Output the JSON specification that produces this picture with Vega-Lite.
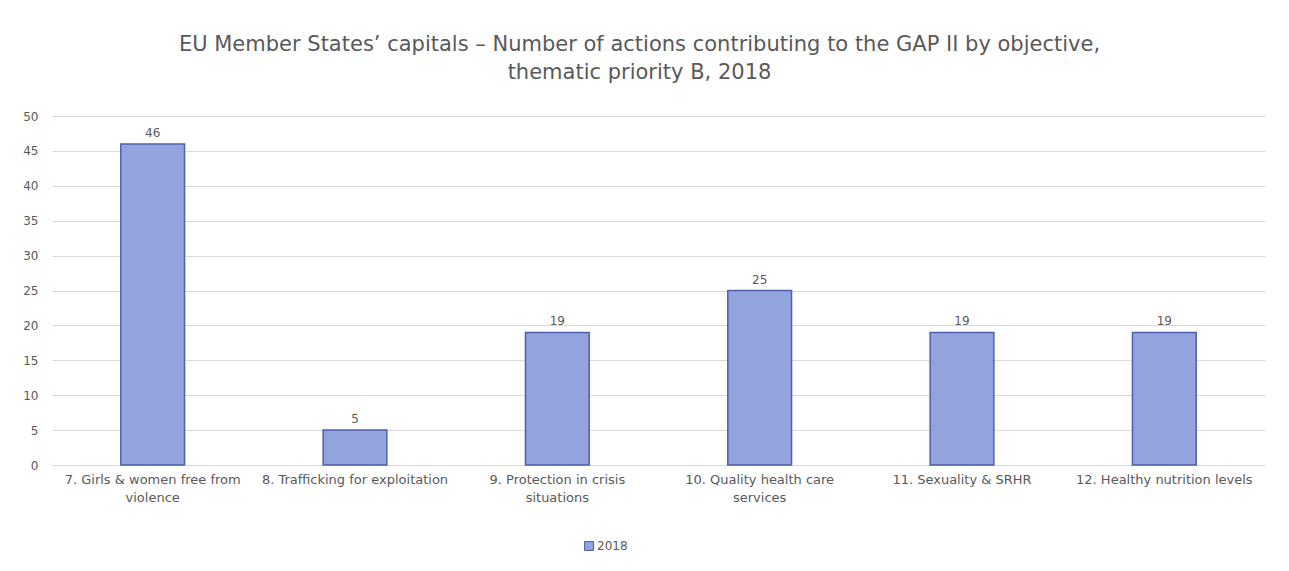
{
  "$schema": "https://vega.github.io/schema/vega-lite/v6.json",
  "autosize": "none",
  "width": 1213,
  "height": 349,
  "padding": {"left": 52, "top": 116, "right": 24, "bottom": 106},
  "background": "white",
  "title": {
    "text": ["EU Member States’ capitals – Number of actions contributing  to the GAP II by objective,", "thematic priority B, 2018"],
    "font": "DejaVu Sans",
    "fontSize": 21,
    "fontWeight": "normal",
    "color": "#595959",
    "anchor": "middle",
    "offset": 27,
    "lineHeight": 28,
    "dx": -19
  },
  "data": {
    "values": [
      {"objective": "7. Girls & women free from violence", "year": "2018", "actions": 46},
      {"objective": "8. Trafficking for exploitation", "year": "2018", "actions": 5},
      {"objective": "9. Protection in crisis situations", "year": "2018", "actions": 19},
      {"objective": "10. Quality health care services", "year": "2018", "actions": 25},
      {"objective": "11. Sexuality & SRHR", "year": "2018", "actions": 19},
      {"objective": "12. Healthy nutrition levels", "year": "2018", "actions": 19}
    ]
  },
  "encoding": {
    "x": {
      "field": "objective",
      "type": "nominal",
      "sort": null,
      "scale": {"paddingInner": 0.685, "paddingOuter": 0.34},
      "axis": {
        "title": null,
        "labelAngle": 0,
        "labelFont": "DejaVu Sans",
        "labelFontSize": 13,
        "labelColor": "#595959",
        "labelPadding": 8,
        "labelLimit": 300,
        "labelLineHeight": 18,
        "ticks": false,
        "domainColor": "#D9D9D9",
        "labelExpr": "datum.value == '7. Girls & women free from violence' ? ['7. Girls & women free from', 'violence'] : datum.value == '9. Protection in crisis situations' ? ['9. Protection in crisis', 'situations'] : datum.value == '10. Quality health care services' ? ['10. Quality health care', 'services'] : datum.value"
      }
    },
    "y": {
      "field": "actions",
      "type": "quantitative",
      "scale": {"domain": [0, 50]},
      "axis": {
        "title": null,
        "values": [0, 5, 10, 15, 20, 25, 30, 35, 40, 45, 50],
        "labelFont": "DejaVu Sans",
        "labelFontSize": 12,
        "labelColor": "#595959",
        "labelPadding": 14,
        "ticks": false,
        "domain": false,
        "gridColor": "#D9D9D9",
        "gridWidth": 1
      }
    }
  },
  "layer": [
    {
      "mark": {"type": "bar", "stroke": "#4E5FAE", "strokeWidth": 1.5},
      "encoding": {
        "color": {
          "field": "year",
          "type": "nominal",
          "scale": {"range": ["#93A3DE"]},
          "legend": {
            "title": null,
            "orient": "none",
            "legendX": 531,
            "legendY": 424,
            "symbolType": "square",
            "symbolSize": 80,
            "symbolStrokeColor": "#4E5FAE",
            "symbolStrokeWidth": 1,
            "labelFont": "DejaVu Sans",
            "labelFontSize": 12,
            "labelColor": "#595959",
            "labelOffset": 2
          }
        }
      }
    },
    {
      "mark": {"type": "text", "dy": -11, "font": "DejaVu Sans", "fontSize": 12, "color": "#595959"},
      "encoding": {"text": {"field": "actions", "type": "quantitative"}}
    }
  ],
  "config": {"view": {"stroke": null}}
}
